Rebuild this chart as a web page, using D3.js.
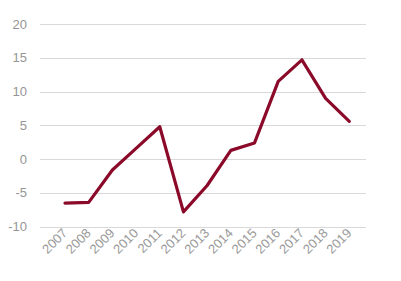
<!DOCTYPE html>
<html><head><meta charset="utf-8">
<script src="https://cdn.jsdelivr.net/npm/d3@7"></script>
<style>body{margin:0;background:#fff}svg{display:block}</style>
</head><body>
<svg id="c" width="401" height="281"></svg>
<script>
const years = ["2007","2008","2009","2010","2011","2012","2013","2014","2015","2016","2017","2018","2019"];
const values = [-6.5,-6.4,-1.6,1.6,4.8,-7.8,-3.9,1.3,2.4,11.5,14.7,9.0,5.6];
const yTicks = [-10,-5,0,5,10,15,20];

const svg = d3.select("#c");
const x = d3.scalePoint().domain(years).range([65, 349.3]);
const y = d3.scaleLinear().domain([-10, 20]).range([226.7, 24]);
const gridL = 40, gridR = 366;

svg.append("g").selectAll("line").data(yTicks).join("line")
  .attr("x1", gridL).attr("x2", gridR)
  .attr("y1", d => Math.round(y(d)) + 0.5).attr("y2", d => Math.round(y(d)) + 0.5)
  .attr("stroke", "#d9d9d9").attr("stroke-width", 1);

svg.append("g").selectAll("text").data(yTicks).join("text")
  .attr("x", 27).attr("y", d => y(d)).attr("dy", "0.35em")
  .attr("text-anchor", "end")
  .attr("font-family", "Liberation Sans, Arial, sans-serif")
  .attr("font-size", 13).attr("fill", "#959595")
  .text(d => d);

svg.append("g").selectAll("text").data(years).join("text")
  .attr("transform", d => `translate(${x(d) + 3},${234}) rotate(-45)`)
  .attr("text-anchor", "end")
  .attr("font-family", "Liberation Sans, Arial, sans-serif")
  .attr("font-size", 13).attr("fill", "#9a9a9a")
  .text(d => d);

const line = d3.line().x((d, i) => x(years[i])).y(d => y(d));
svg.append("path").datum(values).attr("d", line)
  .attr("fill", "none").attr("stroke", "#8b0a2a").attr("stroke-width", 3.2)
  .attr("stroke-linejoin", "round").attr("stroke-linecap", "round");
</script>
</body></html>
